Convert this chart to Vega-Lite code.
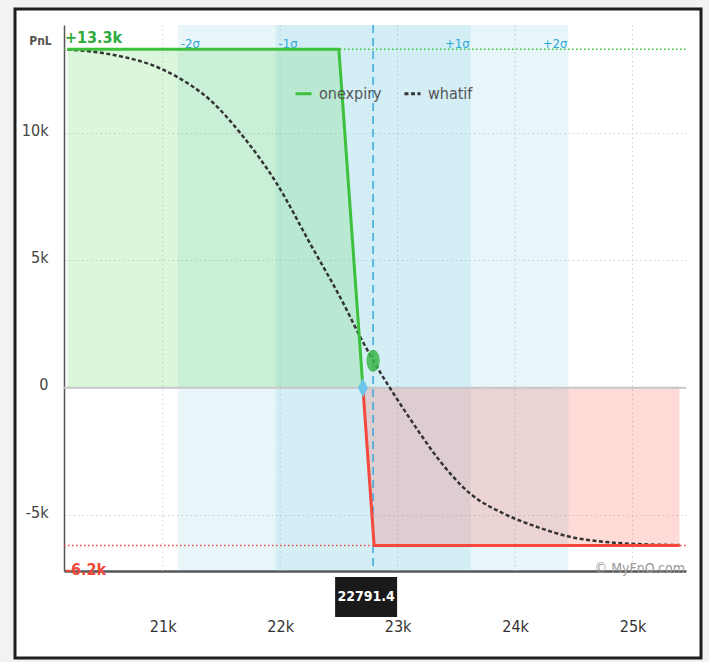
{
  "$schema": "https://vega.github.io/schema/vega-lite/v6.json",
  "width": 686,
  "height": 649,
  "autosize": {"type": "none"},
  "padding": {"left": 15, "top": 9, "right": 8, "bottom": 4},
  "background": "#f2f2f2",
  "config": {
    "font": "DejaVu Sans Condensed, Liberation Sans Narrow, Roboto, sans-serif",
    "view": {"fill": "#ffffff", "stroke": "#1e1e1e", "strokeWidth": 3}
  },
  "datasets": {
    "xticks": [{"v": 21000}, {"v": 22000}, {"v": 23000}, {"v": 24000}, {"v": 25000}],
    "bands": [
      {"band": "2σ", "lo": 21129.4, "hi": 24453.4},
      {"band": "1σ", "lo": 21960.4, "hi": 23622.4}
    ],
    "sigma": [
      {"lbl": "-2σ", "x": 21129.4, "side": "neg"},
      {"lbl": "-1σ", "x": 21960.4, "side": "neg"},
      {"lbl": "+1σ", "x": 23622.4, "side": "pos"},
      {"lbl": "+2σ", "x": 24453.4, "side": "pos"}
    ],
    "profit": [
      {"series": "onexpiry", "strike": 20190, "pnl": 13300},
      {"series": "onexpiry", "strike": 22500, "pnl": 13300},
      {"series": "onexpiry", "strike": 22704.6, "pnl": 0}
    ],
    "loss": [
      {"strike": 22704.6, "pnl": 0},
      {"strike": 22800, "pnl": -6200},
      {"strike": 25400, "pnl": -6200}
    ],
    "whatif": [
      {"series": "whatif", "strike": 20190, "pnl": 13290},
      {"series": "whatif", "strike": 20551, "pnl": 13100},
      {"series": "whatif", "strike": 20977, "pnl": 12550},
      {"series": "whatif", "strike": 21119, "pnl": 12220},
      {"series": "whatif", "strike": 21403, "pnl": 11306},
      {"series": "whatif", "strike": 21686, "pnl": 9862},
      {"series": "whatif", "strike": 21970, "pnl": 8031},
      {"series": "whatif", "strike": 22254, "pnl": 5674},
      {"series": "whatif", "strike": 22538, "pnl": 3316},
      {"series": "whatif", "strike": 22681, "pnl": 2004},
      {"series": "whatif", "strike": 22823, "pnl": 825},
      {"series": "whatif", "strike": 22964, "pnl": -220},
      {"series": "whatif", "strike": 23190, "pnl": -1792},
      {"series": "whatif", "strike": 23332, "pnl": -2711},
      {"series": "whatif", "strike": 23615, "pnl": -4149},
      {"series": "whatif", "strike": 23899, "pnl": -4935},
      {"series": "whatif", "strike": 24183, "pnl": -5462},
      {"series": "whatif", "strike": 24466, "pnl": -5855},
      {"series": "whatif", "strike": 24750, "pnl": -6051},
      {"series": "whatif", "strike": 25034, "pnl": -6141},
      {"series": "whatif", "strike": 25400, "pnl": -6181}
    ],
    "refs": [
      {"level": 13300, "text": "+13.3k", "kind": "max"},
      {"level": -6200, "text": "-6.2k", "kind": "min"}
    ],
    "spot": [{"spot": 22791.4, "label": "22791.4", "dot": 1060}],
    "be": [{"strike": 22704.6, "pnl": 0}],
    "zero": [{"level": 0}],
    "mark": [{"text": "© MyFnO.com"}]
  },
  "layer": [
    {
      "data": {"name": "xticks"},
      "mark": {"type": "rule", "color": "#d0d0d0", "strokeWidth": 1, "strokeDash": [1.5, 3]},
      "encoding": {
        "x": {"field": "v", "type": "quantitative", "title": null,
          "scale": {"domain": [20160, 25455], "range": [49, 671], "nice": false, "zero": false},
          "axis": {"values": [21000, 22000, 23000, 24000, 25000], "labelExpr": "datum.value/1000 + 'k'", "offset": -87, "title": null, "tickSize": 0, "labelPadding": 47, "labelFontSize": 16, "labelColor": "#333333", "domainColor": "#555555", "domainWidth": 2.5, "grid": false, "labelFlush": false}},
        "y": {"datum": 14250, "scale": {"domain": [-7200, 14250], "range": [562, 16], "nice": false, "zero": false}},
        "y2": {"datum": -7200}
      }
    },
    {
      "data": {"name": "bands"},
      "mark": {"type": "rect", "color": "#5bc0de", "opacity": 0.14},
      "encoding": {
        "x": {"field": "lo", "type": "quantitative"},
        "x2": {"field": "hi"},
        "y": {"datum": 14250},
        "y2": {"datum": -7200}
      }
    },
    {
      "data": {"name": "profit"},
      "mark": {"type": "area", "color": "#5cd65c", "opacity": 0.22},
      "encoding": {
        "x": {"field": "strike", "type": "quantitative"},
        "y": {"field": "pnl", "type": "quantitative", "title": "PnL",
          "scale": {"domain": [-7200, 14250], "range": [562, 16], "nice": false, "zero": false},
          "axis": {"values": [-5000, 0, 5000, 10000], "labelExpr": "datum.value == 0 ? '0' : datum.value/1000 + 'k'", "offset": -49, "title": "PnL", "titleAngle": 0, "titleX": -24, "titleY": 31, "titleAlign": "center", "titleBaseline": "middle", "titleFontSize": 12, "titleFontWeight": "bold", "titleColor": "#555555", "tickSize": 0, "labelPadding": 16, "labelFontSize": 16, "labelColor": "#444444", "labelOffset": -3, "domainColor": "#555555", "domainWidth": 1.5, "grid": true, "gridDash": [1.5, 3], "gridColor": "#d0d0d0"}},
        "y2": {"datum": 0}
      }
    },
    {
      "data": {"name": "loss"},
      "mark": {"type": "area", "color": "#ff5a4f", "opacity": 0.22},
      "encoding": {
        "x": {"field": "strike", "type": "quantitative"},
        "y": {"field": "pnl", "type": "quantitative"},
        "y2": {"datum": 0}
      }
    },
    {
      "data": {"name": "zero"},
      "mark": {"type": "rule", "color": "#c8c8c8", "strokeWidth": 2},
      "encoding": {
        "x": {"datum": 20160},
        "x2": {"datum": 25455},
        "y": {"field": "level", "type": "quantitative"}
      }
    },
    {
      "data": {"name": "refs"},
      "transform": [{"filter": "datum.kind == 'max'"}],
      "mark": {"type": "rule", "color": "#3cc13c", "strokeWidth": 1.5, "strokeDash": [1.5, 2.5]},
      "encoding": {
        "x": {"datum": 20160},
        "x2": {"datum": 25455},
        "y": {"field": "level", "type": "quantitative"}
      }
    },
    {
      "data": {"name": "refs"},
      "transform": [{"filter": "datum.kind == 'min'"}],
      "mark": {"type": "rule", "color": "#f4493c", "strokeWidth": 1.5, "strokeDash": [1.5, 2.5]},
      "encoding": {
        "x": {"datum": 20160},
        "x2": {"datum": 25455},
        "y": {"field": "level", "type": "quantitative"}
      }
    },
    {
      "data": {"name": "spot"},
      "mark": {"type": "rule", "color": "#3aa8dc", "strokeWidth": 1.5, "strokeDash": [8, 5]},
      "encoding": {
        "x": {"field": "spot", "type": "quantitative"},
        "y": {"datum": 14250},
        "y2": {"datum": -7200}
      }
    },
    {
      "data": {"name": "sigma"},
      "transform": [{"filter": "datum.side == 'neg'"}],
      "mark": {"type": "text", "align": "left", "baseline": "middle", "dx": 3, "dy": 19, "fontSize": 13, "color": "#2fa6dc"},
      "encoding": {
        "x": {"field": "x", "type": "quantitative"},
        "y": {"datum": 14250},
        "text": {"field": "lbl"}
      }
    },
    {
      "data": {"name": "sigma"},
      "transform": [{"filter": "datum.side == 'pos'"}],
      "mark": {"type": "text", "align": "right", "baseline": "middle", "dx": -1, "dy": 19, "fontSize": 13, "color": "#2fa6dc"},
      "encoding": {
        "x": {"field": "x", "type": "quantitative"},
        "y": {"datum": 14250},
        "text": {"field": "lbl"}
      }
    },
    {
      "data": {"name": "whatif"},
      "mark": {"type": "line", "strokeWidth": 2.5, "interpolate": "monotone"},
      "encoding": {
        "x": {"field": "strike", "type": "quantitative"},
        "y": {"field": "pnl", "type": "quantitative"},
        "color": {"field": "series", "type": "nominal", "scale": {"domain": ["onexpiry", "whatif"], "range": ["#3cc13c", "#333333"]},
          "legend": {"title": null, "orient": "none", "legendX": 279, "legendY": 75, "direction": "horizontal", "symbolType": "stroke", "symbolSize": 256, "symbolStrokeWidth": 3, "labelFontSize": 16, "labelColor": "#555555", "labelOffset": 6, "columnPadding": 16}},
        "strokeDash": {"field": "series", "type": "nominal", "scale": {"domain": ["onexpiry", "whatif"], "range": [[1, 0], [4, 2.5]]},
          "legend": {"title": null, "orient": "none", "legendX": 279, "legendY": 75, "direction": "horizontal", "symbolType": "stroke", "symbolSize": 256, "symbolStrokeWidth": 3, "labelFontSize": 16, "labelColor": "#555555", "labelOffset": 6, "columnPadding": 16}}
      }
    },
    {
      "data": {"name": "profit"},
      "mark": {"type": "line", "strokeWidth": 3},
      "encoding": {
        "x": {"field": "strike", "type": "quantitative"},
        "y": {"field": "pnl", "type": "quantitative"},
        "color": {"field": "series", "type": "nominal"},
        "strokeDash": {"field": "series", "type": "nominal"}
      }
    },
    {
      "data": {"name": "loss"},
      "mark": {"type": "line", "strokeWidth": 3, "color": "#f4493c"},
      "encoding": {
        "x": {"field": "strike", "type": "quantitative"},
        "y": {"field": "pnl", "type": "quantitative"}
      }
    },
    {
      "data": {"name": "be"},
      "mark": {"type": "point", "shape": "M0,-0.95L0.5,0L0,0.95L-0.5,0Z", "size": 400, "filled": true, "color": "#6cc5e8", "opacity": 1},
      "encoding": {
        "x": {"field": "strike", "type": "quantitative"},
        "y": {"field": "pnl", "type": "quantitative"}
      }
    },
    {
      "data": {"name": "spot"},
      "mark": {"type": "point", "shape": "M0,-1A0.6,1 0 1,1 0,1A0.6,1 0 1,1 0,-1Z", "size": 484, "filled": true, "color": "#3cb54a", "opacity": 0.85},
      "encoding": {
        "x": {"field": "spot", "type": "quantitative"},
        "y": {"field": "dot", "type": "quantitative"}
      }
    },
    {
      "data": {"name": "refs"},
      "transform": [{"filter": "datum.kind == 'max'"}],
      "mark": {"type": "text", "align": "left", "baseline": "alphabetic", "dx": 1, "dy": -6, "fontSize": 16, "fontWeight": "bold", "color": "#2eaa3c"},
      "encoding": {
        "x": {"datum": 20160},
        "y": {"field": "level", "type": "quantitative"},
        "text": {"field": "text"}
      }
    },
    {
      "data": {"name": "refs"},
      "transform": [{"filter": "datum.kind == 'min'"}],
      "mark": {"type": "text", "align": "left", "baseline": "alphabetic", "dx": 1, "dy": 29, "fontSize": 16, "fontWeight": "bold", "color": "#f04a3a"},
      "encoding": {
        "x": {"datum": 20160},
        "y": {"field": "level", "type": "quantitative"},
        "text": {"field": "text"}
      }
    },
    {
      "data": {"name": "mark"},
      "mark": {"type": "text", "align": "right", "baseline": "alphabetic", "dx": -1, "dy": 2, "fontSize": 14, "color": "#9a9a9a"},
      "encoding": {
        "x": {"datum": 25455},
        "y": {"datum": -7200},
        "text": {"field": "text"}
      }
    },
    {
      "data": {"name": "spot"},
      "mark": {"type": "point", "shape": "M-1.55,-1L1.55,-1L1.55,1L-1.55,1Z", "size": 1600, "filled": true, "color": "#1a1a1a", "opacity": 1, "yOffset": 26, "xOffset": -7},
      "encoding": {
        "x": {"field": "spot", "type": "quantitative"},
        "y": {"datum": -7200}
      }
    },
    {
      "data": {"name": "spot"},
      "mark": {"type": "text", "align": "center", "baseline": "middle", "dy": 26, "dx": -7, "fontSize": 14, "fontWeight": "bold", "color": "#ffffff"},
      "encoding": {
        "x": {"field": "spot", "type": "quantitative"},
        "y": {"datum": -7200},
        "text": {"field": "label"}
      }
    }
  ]
}
